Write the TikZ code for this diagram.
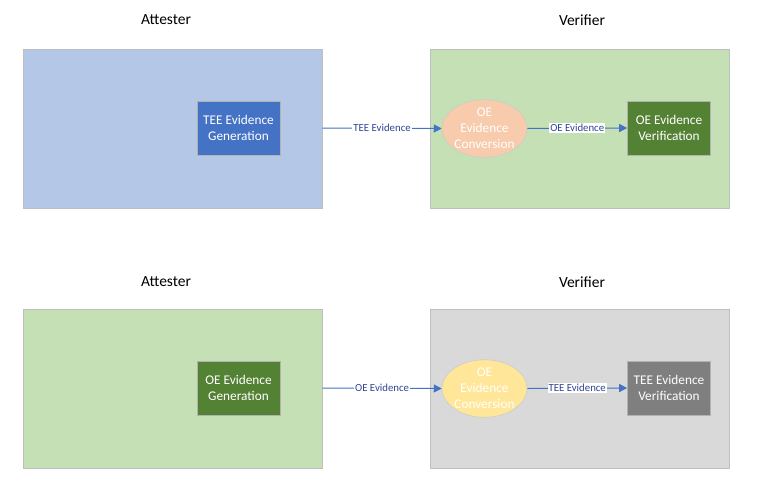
\documentclass[tikz,border=0pt]{standalone}
\usepackage{fontspec}
\setmainfont{Carlito}
\usetikzlibrary{arrows.meta}
\definecolor{panelblue}{HTML}{B4C7E7}
\definecolor{panelgreen}{HTML}{C5E0B4}
\definecolor{panelgray}{HTML}{D9D9D9}
\definecolor{panelborder}{HTML}{BFBFBF}
\definecolor{boxblue}{HTML}{4472C4}
\definecolor{boxgreen}{HTML}{548235}
\definecolor{boxgray}{HTML}{7F7F7F}
\definecolor{elpeach}{HTML}{F8CBAD}
\definecolor{elyellow}{HTML}{FFE699}
\definecolor{arrowblue}{HTML}{4472C4}
\definecolor{labelblue}{HTML}{2F4496}
\tikzset{
  panel/.style={draw=panelborder, line width=0.8pt, minimum width=299pt, minimum height=159pt, inner sep=0pt},
  title/.style={font=\fontsize{15.5pt}{18pt}\selectfont, text=black},
  stepbox/.style={draw=white!70!black, line width=0.6pt, minimum width=83pt, minimum height=54pt, inner sep=0pt, align=center, text=white, font=\fontsize{13.3pt}{16pt}\selectfont},
  convert/.style={ellipse, draw=white!80!black, line width=0.6pt, minimum width=83pt, minimum height=55pt, inner sep=0pt, align=center, text=white, font=\fontsize{13.3pt}{16pt}\selectfont},
  flow/.style={draw=arrowblue, line width=1pt, -{Triangle[length=8pt,width=8pt]}},
  flowlabel/.style={fill=white, inner sep=1pt, text=labelblue, font=\fontsize{10.8pt}{12pt}\selectfont}
}
\usetikzlibrary{shapes.geometric}
\begin{document}
\begin{tikzpicture}[x=1pt,y=-1pt]
\useasboundingbox[fill=white] (0,0) rectangle (762,498);
% top row
\node[title] (t1a) at (166,20) {Attester};
\node[title] (t1v) at (582,20) {Verifier};
\node[panel, fill=panelblue] (p1a) at (172.5,128.5) {};
\node[panel, fill=panelgreen] (p1v) at (579.5,128.5) {};
\node[stepbox, fill=boxblue] (gen1) at (238.5,128) {TEE Evidence\\Generation};
\node[convert, fill=elpeach] (conv1) at (484.5,128.5) {OE\\Evidence\\Conversion};
\node[stepbox, fill=boxgreen] (ver1) at (669,128) {OE Evidence\\Verification};
\draw[flow] (p1a.east |- gen1) -- node[flowlabel]{TEE Evidence} (conv1.west);
\draw[flow] (conv1.east) -- node[flowlabel]{OE Evidence} (ver1.west);
% bottom row
\node[title] (t2a) at (166,282) {Attester};
\node[title] (t2v) at (582,282) {Verifier};
\node[panel, fill=panelgreen] (p2a) at (172.5,388.5) {};
\node[panel, fill=panelgray] (p2v) at (579.5,388.5) {};
\node[stepbox, fill=boxgreen] (gen2) at (238.5,388) {OE Evidence\\Generation};
\node[convert, fill=elyellow] (conv2) at (484.5,388.5) {OE\\Evidence\\Conversion};
\node[stepbox, fill=boxgray] (ver2) at (669,388) {TEE Evidence\\Verification};
\draw[flow] (p2a.east |- gen2) -- node[flowlabel]{OE Evidence} (conv2.west);
\draw[flow] (conv2.east) -- node[flowlabel]{TEE Evidence} (ver2.west);
\end{tikzpicture}
\end{document}
